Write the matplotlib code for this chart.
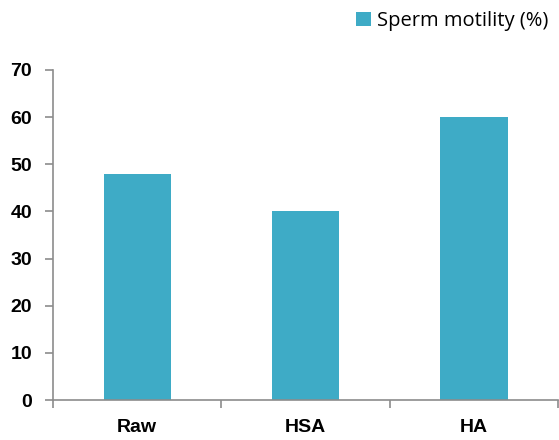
import matplotlib
matplotlib.use('Agg')
import matplotlib.pyplot as plt
import numpy as np

categories = ['Raw', 'HSA', 'HA']
motility = [48, 40, 60]
y_ticks = [0, 10, 20, 30, 40, 50, 60, 70]

BAR_COLOR = '#3eabc6'
AXIS_COLOR = '#8c8c8c'

fig = plt.figure(figsize=(5.59, 4.40), dpi=100)
ax = fig.add_axes([53 / 559, 40 / 440, 505 / 559, 330 / 440])

x = np.arange(len(categories))
ax.bar(x, motility, width=0.4, color=BAR_COLOR, label='Sperm motility (%)')

ax.set_xlim(-0.5, len(categories) - 0.5)
ax.set_ylim(0, 70)
ax.set_yticks(y_ticks)
ax.set_yticklabels([str(t) for t in y_ticks], fontsize=14, fontweight='bold',
                   family='Liberation Sans')

ax.set_xticks(x)
ax.set_xticklabels(categories, fontsize=14, fontweight='bold', family='Liberation Sans')
ax.tick_params(axis='x', which='major', length=0, pad=14)
ax.set_xticks(np.arange(len(categories) + 1) - 0.5, minor=True)
ax.tick_params(axis='x', which='minor', length=6, color=AXIS_COLOR, width=1.2)
ax.tick_params(axis='y', length=6, color=AXIS_COLOR, width=1.2, pad=9)

for side in ['top', 'right']:
    ax.spines[side].set_visible(False)
for side in ['left', 'bottom']:
    ax.spines[side].set_color(AXIS_COLOR)
    ax.spines[side].set_linewidth(1.2)

leg = fig.legend(loc='upper right', bbox_to_anchor=(1.0, 1.0), frameon=False,
                 borderaxespad=0.25, borderpad=0.3,
                 prop={'family': 'Open Sans', 'size': 14.5},
                 handlelength=0.7, handleheight=0.7, handletextpad=0.3)

fig.savefig('out.png', dpi=100)
